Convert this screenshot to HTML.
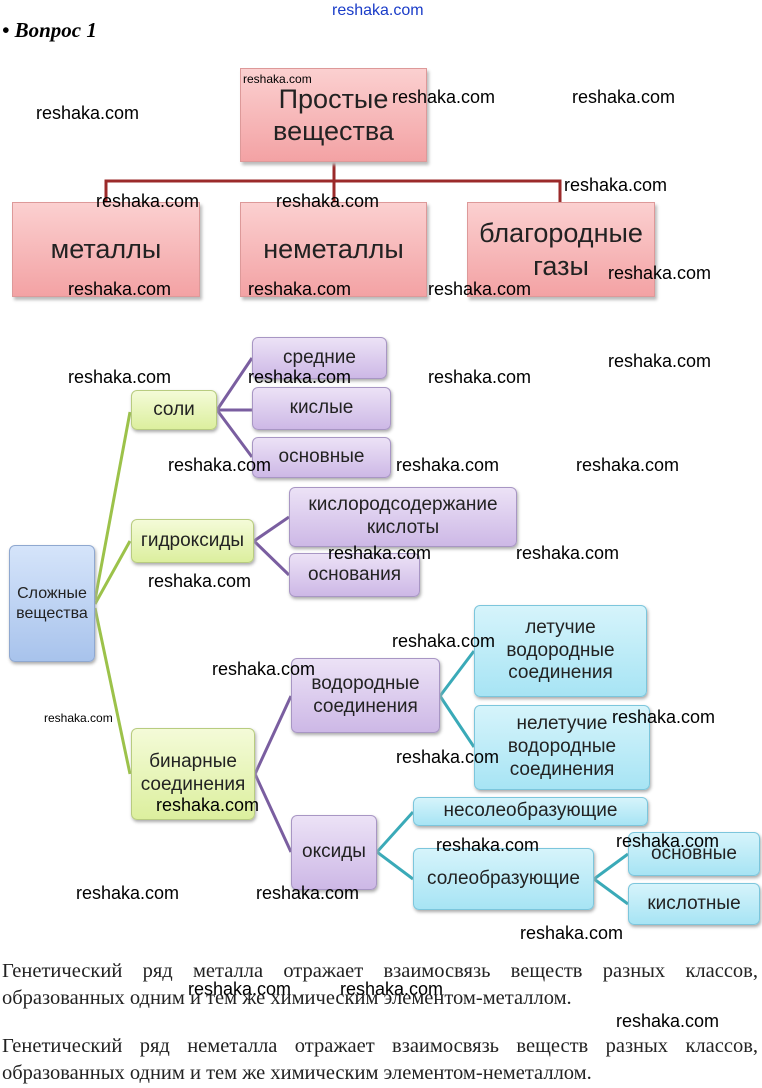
<!DOCTYPE html>
<html><head><meta charset="utf-8"><style>
body{margin:0;width:762px;height:1088px;background:#fff;position:relative;overflow:hidden;font-family:"Liberation Sans","DejaVu Sans",sans-serif}
.b{position:absolute;box-sizing:border-box;display:flex;align-items:center;justify-content:center;text-align:center;color:#222;line-height:1.2}
.p{background:linear-gradient(#fbd0d0,#f3a2a4);border:1px solid #d99;box-shadow:2px 3px 3px #bbb;font-size:27px}
.g{background:linear-gradient(#f4fbd8,#dcef9e);border:1px solid #b8cc80;border-radius:6px;box-shadow:1px 2px 3px #aaa;font-size:19px}
.v{background:linear-gradient(#ece2f6,#cdb8e6);border:1px solid #a896c4;border-radius:6px;box-shadow:1px 2px 3px #aaa;font-size:19px}
.c{background:linear-gradient(#d6f4fb,#a7e4f4);border:1px solid #7cc6dc;border-radius:6px;box-shadow:1px 2px 3px #aaa;font-size:19px}
.bl{background:linear-gradient(#d5e4fa,#a8c3ec);border:1px solid #8fa8d0;border-radius:6px;box-shadow:1px 2px 3px #aaa;font-size:16px}
.w{position:absolute;font-size:18px;color:#000;line-height:1;transform:translateY(-50%);white-space:nowrap}
.t{position:absolute;left:2px;width:756px;font-family:"Liberation Serif",serif;font-size:20.5px;color:#222;text-align:justify;text-align-last:justify;line-height:1;white-space:nowrap}
</style></head><body>
<div style="position:absolute;left:332px;top:2px;font-size:16px;color:#1a3cc8">reshaka.com</div>
<div style="position:absolute;left:2px;top:18px;font-family:'Liberation Serif',serif;font-weight:bold;font-style:italic;font-size:21px">• Вопрос 1</div>
<svg width="762" height="1088" style="position:absolute;left:0;top:0">
<g stroke="#9b2a2a" stroke-width="3" fill="none">
<path d="M334 162V181M106 202V181H560V202M334 181V202"/></g>
<g stroke="#9cc24a" stroke-width="3" fill="none">
<path d="M95 600L130 412M95 604L130 541M95 608L130 774"/></g>
<g stroke="#7a5ea0" stroke-width="3" fill="none">
<path d="M217 410L252 358M217 410H252M217 410L252 457M254 541L289 517M254 541L289 575M255 774L291 696M255 774L291 852"/></g>
<g stroke="#3aaab8" stroke-width="3" fill="none">
<path d="M440 696L474 651M440 696L474 747M377 852L413 812M377 852L413 879M594 879L628 854M594 879L628 904"/></g>
</svg>
<div class="b p" style="left:240px;top:68px;width:187px;height:94px">Простые<br>вещества</div>
<div class="b p" style="left:12px;top:202px;width:188px;height:95px">металлы</div>
<div class="b p" style="left:240px;top:202px;width:187px;height:95px">неметаллы</div>
<div class="b p" style="left:467px;top:202px;width:188px;height:95px">благородные<br>газы</div>
<div class="b bl" style="left:9px;top:545px;width:86px;height:117px">Сложные<br>вещества</div>
<div class="b g" style="left:131px;top:390px;width:86px;height:40px">соли</div>
<div class="b g" style="left:131px;top:519px;width:123px;height:44px">гидроксиды</div>
<div class="b g" style="left:131px;top:728px;width:124px;height:92px">бинарные<br>соединения</div>
<div class="b v" style="left:252px;top:337px;width:135px;height:42px">средние</div>
<div class="b v" style="left:252px;top:387px;width:139px;height:43px">кислые</div>
<div class="b v" style="left:252px;top:437px;width:139px;height:41px">основные</div>
<div class="b v" style="left:289px;top:487px;width:228px;height:60px">кислородсодержание<br>кислоты</div>
<div class="b v" style="left:289px;top:553px;width:131px;height:44px">основания</div>
<div class="b v" style="left:291px;top:658px;width:149px;height:75px">водородные<br>соединения</div>
<div class="b v" style="left:291px;top:815px;width:86px;height:75px">оксиды</div>
<div class="b c" style="left:474px;top:605px;width:173px;height:92px">летучие<br>водородные<br>соединения</div>
<div class="b c" style="left:474px;top:705px;width:176px;height:85px">нелетучие<br>водородные<br>соединения</div>
<div class="b c" style="left:413px;top:797px;width:235px;height:29px">несолеобразующие</div>
<div class="b c" style="left:413px;top:848px;width:181px;height:62px">солеобразующие</div>
<div class="b c" style="left:628px;top:832px;width:132px;height:44px">основные</div>
<div class="b c" style="left:628px;top:883px;width:132px;height:42px">кислотные</div>

<div class="w" style="left:243px;top:79px;font-size:12px">reshaka.com</div>
<div class="w" style="left:44px;top:718px;font-size:12px">reshaka.com</div>
<div class="w" style="left:36px;top:113px">reshaka.com</div>
<div class="w" style="left:392px;top:97px">reshaka.com</div>
<div class="w" style="left:572px;top:97px">reshaka.com</div>
<div class="w" style="left:564px;top:185px">reshaka.com</div>
<div class="w" style="left:96px;top:201px">reshaka.com</div>
<div class="w" style="left:276px;top:201px">reshaka.com</div>
<div class="w" style="left:608px;top:273px">reshaka.com</div>
<div class="w" style="left:68px;top:289px">reshaka.com</div>
<div class="w" style="left:248px;top:289px">reshaka.com</div>
<div class="w" style="left:428px;top:289px">reshaka.com</div>
<div class="w" style="left:608px;top:361px">reshaka.com</div>
<div class="w" style="left:68px;top:377px">reshaka.com</div>
<div class="w" style="left:248px;top:377px">reshaka.com</div>
<div class="w" style="left:428px;top:377px">reshaka.com</div>
<div class="w" style="left:168px;top:465px">reshaka.com</div>
<div class="w" style="left:396px;top:465px">reshaka.com</div>
<div class="w" style="left:576px;top:465px">reshaka.com</div>
<div class="w" style="left:328px;top:553px">reshaka.com</div>
<div class="w" style="left:516px;top:553px">reshaka.com</div>
<div class="w" style="left:148px;top:581px">reshaka.com</div>
<div class="w" style="left:392px;top:641px">reshaka.com</div>
<div class="w" style="left:212px;top:669px">reshaka.com</div>
<div class="w" style="left:612px;top:717px">reshaka.com</div>
<div class="w" style="left:396px;top:757px">reshaka.com</div>
<div class="w" style="left:156px;top:805px">reshaka.com</div>
<div class="w" style="left:436px;top:845px">reshaka.com</div>
<div class="w" style="left:616px;top:841px">reshaka.com</div>
<div class="w" style="left:76px;top:893px">reshaka.com</div>
<div class="w" style="left:256px;top:893px">reshaka.com</div>
<div class="w" style="left:520px;top:933px">reshaka.com</div>
<div class="w" style="left:188px;top:989px">reshaka.com</div>
<div class="w" style="left:340px;top:989px">reshaka.com</div>
<div class="w" style="left:616px;top:1021px">reshaka.com</div>

<div class="t" style="top:961px">Генетический ряд металла отражает взаимосвязь веществ разных классов,</div>
<div class="t" style="top:988px;text-align-last:left">образованных одним и тем же химическим элементом-металлом.</div>
<div class="t" style="top:1036px">Генетический ряд неметалла отражает взаимосвязь веществ разных классов,</div>
<div class="t" style="top:1063px;text-align-last:left">образованных одним и тем же химическим элементом-неметаллом.</div>
</body></html>
